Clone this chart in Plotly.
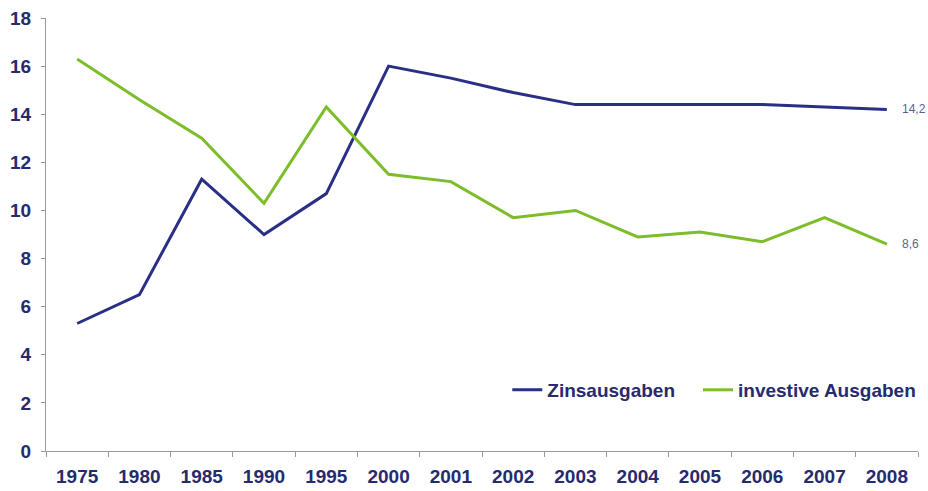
import plotly.graph_objects as go

years = ["1975", "1980", "1985", "1990", "1995", "2000", "2001", "2002", "2003",
         "2004", "2005", "2006", "2007", "2008"]
zinsausgaben = [5.3, 6.5, 11.3, 9.0, 10.7, 16.0, 15.5, 14.9, 14.4, 14.4, 14.4, 14.4, 14.3, 14.2]
investive = [16.3, 14.6, 13.0, 10.3, 14.3, 11.5, 11.2, 9.7, 10.0, 8.9, 9.1, 8.7, 9.7, 8.6]
end_labels = ["14,2", "8,6"]
y_ticks = [0, 2, 4, 6, 8, 10, 12, 14, 16, 18]

navy = "#2A2F86"
green = "#7DBD2A"
text_col = "#262A6E"

fig = go.Figure()
fig.add_trace(go.Scatter(x=years, y=zinsausgaben, mode="lines", name="Zinsausgaben",
                         line=dict(color=navy, width=3), legend="legend"))
fig.add_trace(go.Scatter(x=years, y=investive, mode="lines", name="investive Ausgaben",
                         line=dict(color=green, width=3), legend="legend2"))

last = len(years) - 1
for val, lab in zip([zinsausgaben[-1], investive[-1]], end_labels):
    fig.add_annotation(x=last, y=val, xref="x", yref="y", text=lab, showarrow=False,
                       xanchor="left", xshift=13,
                       font=dict(family="Liberation Sans", size=12, color="#5A5E98"))

legend_style = dict(orientation="h", y=0.141, xanchor="left", yanchor="middle",
                    font=dict(family="Liberation Sans", size=19, color=text_col, weight="bold"),
                    itemwidth=30, bgcolor="rgba(0,0,0,0)")

fig.update_layout(
    width=928, height=491,
    margin=dict(l=46, r=10, t=18, b=40, autoexpand=False),
    paper_bgcolor="white", plot_bgcolor="white",
    font=dict(family="Liberation Sans", color=text_col),
    showlegend=True,
    legend=dict(x=0.529, **legend_style),
    legend2=dict(x=0.7477, **legend_style),
    xaxis=dict(type="category", range=[-0.5, last + 0.5], showgrid=False, showline=True,
               linecolor="#9A9A9A", linewidth=1,
               ticks="outside", tickson="boundaries", ticklen=5, tickcolor="#9A9A9A",
               tickangle=0, automargin=False, ticklabelstandoff=8,
               tickfont=dict(family="Liberation Sans", size=19, color=text_col, weight="bold"),
               zeroline=False),
    yaxis=dict(range=[0, 18], tickvals=y_ticks, showgrid=False, showline=True, linecolor="#9A9A9A",
               linewidth=1, ticks="outside", ticklen=4, tickcolor="#9A9A9A", zeroline=False,
               automargin=False, ticklabeloverflow="allow",
               tickfont=dict(family="Liberation Sans", size=19, color=text_col, weight="bold"),
               ticklabelstandoff=6),
)

fig.write_html("out.html", config={"displayModeBar": False},
               post_script="document.body.style.margin='0';document.body.style.overflow='hidden';")
